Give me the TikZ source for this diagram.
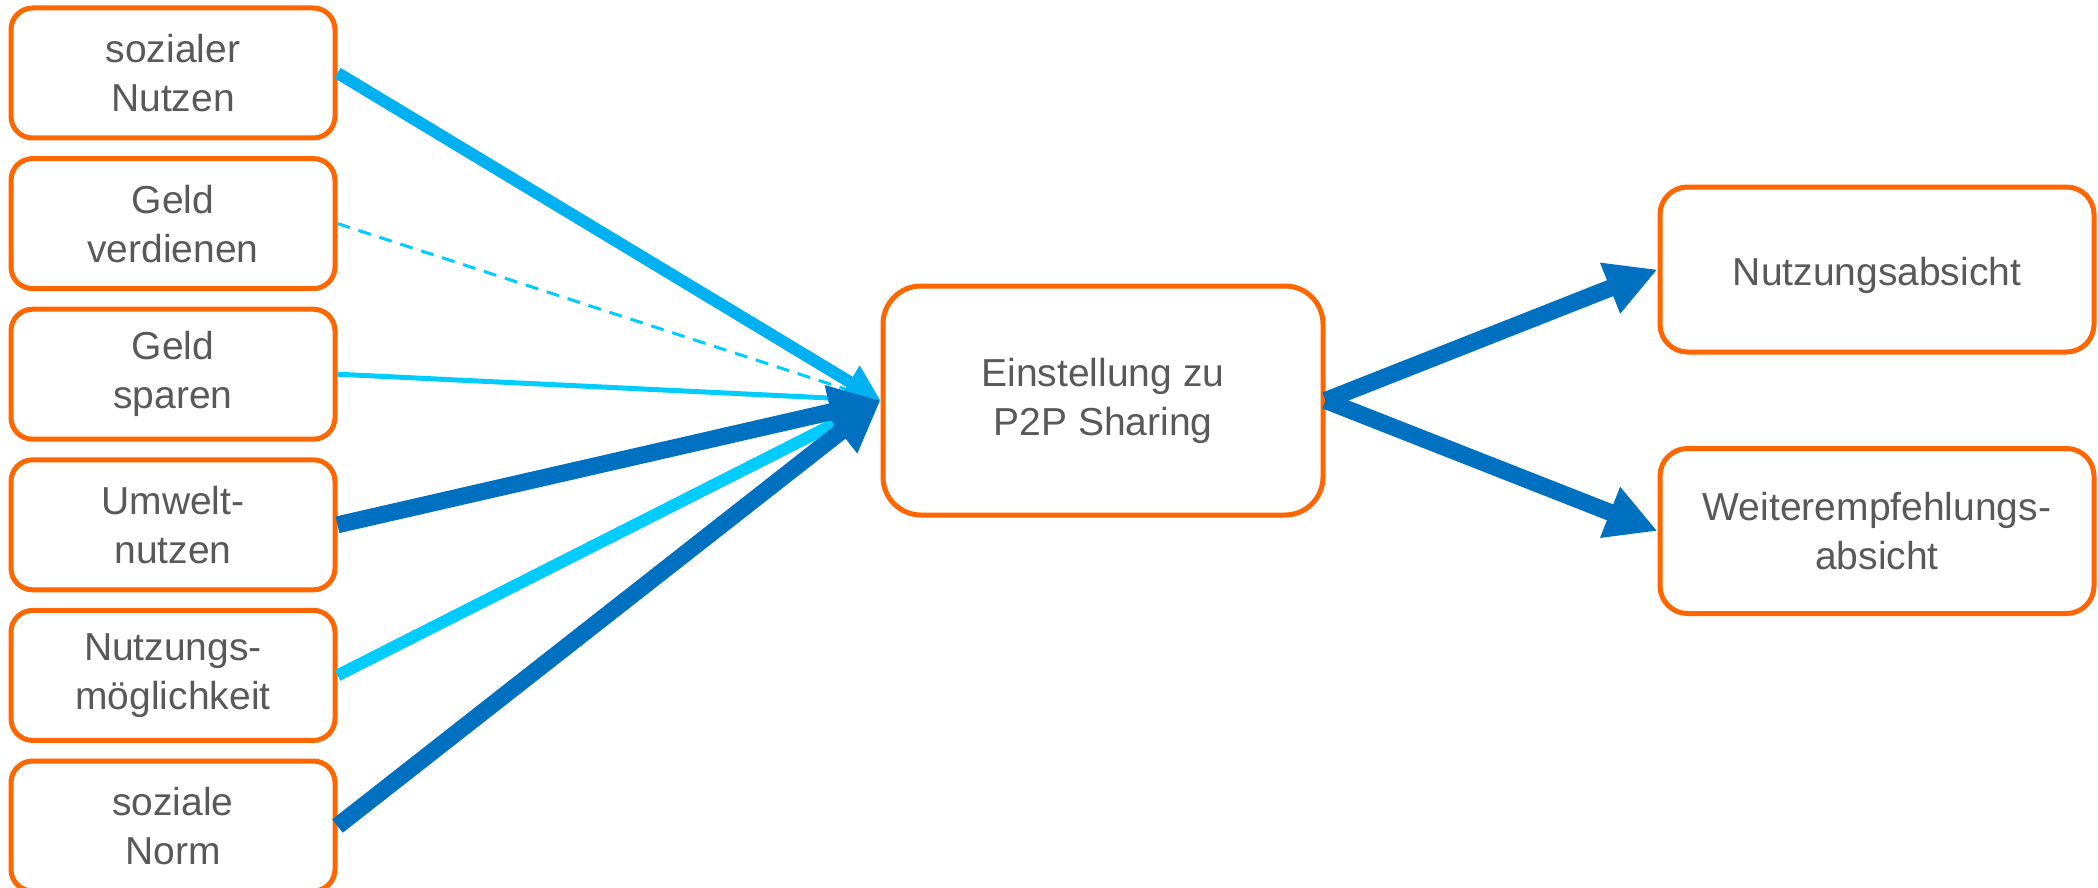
\documentclass[tikz,border=0pt]{standalone}
\usepackage{fontspec}
\setmainfont{Liberation Sans}
\usetikzlibrary{arrows.meta,positioning}
\definecolor{frame-color}{RGB}{255,102,0}
\definecolor{label-color}{RGB}{89,89,89}
\definecolor{strong-color}{RGB}{0,112,192}
\definecolor{mid-color}{RGB}{0,176,240}
\definecolor{weak-color}{RGB}{0,204,255}
\tikzset{
  box/.style={draw=frame-color, line width=2.5pt, fill=white,
    text=label-color, align=center, font=\fontsize{19.5}{24.5}\selectfont,
    execute at begin node=\rule{0pt}{20pt}},
  factor/.style={box, rounded corners=10.8pt, minimum width=162pt, minimum height=65pt},
  attitude/.style={box, rounded corners=19pt, minimum width=220pt, minimum height=114.5pt},
  intention/.style={box, rounded corners=13.75pt, minimum width=217pt, minimum height=82.5pt}
}
\tikzset{
  link/.style={-{Triangle[length=0pt 3, width=0pt 3]}},
  link-strong/.style={link, draw=strong-color, line width=8.5pt},
  link-mid/.style={link, draw=mid-color, line width=6pt},
  link-weak/.style={link, draw=weak-color, line width=#1},
  link-weak/.default=2.5pt
}

\begin{document}
\begin{tikzpicture}[node distance=7.8pt]
  \useasboundingbox (0,0) rectangle (1049pt,-444pt);
  \node[factor] (social) at (86.5pt,-36.5pt) {sozialer\\Nutzen};
  \node[factor, below=of social] (earn) {Geld\\verdienen};
  \node[factor, below=of earn] (save) {Geld\\sparen};
  \node[factor, below=of save] (eco) {Umwelt-\\nutzen};
  \node[factor, below=of eco] (avail) {Nutzungs-\\möglichkeit};
  \node[factor, below=of avail] (norm) {soziale\\Norm};
  \node[attitude] (att) at (551.5pt,-200.25pt) {Einstellung zu\\P2P Sharing};
  \node[intention] (use) at (938.5pt,-134.75pt) {Nutzungsabsicht};
  \node[intention] (rec) at (938.5pt,-265.5pt) {Weiterempfehlungs-\\absicht};

  \draw[link-weak=1.5pt, dash pattern=on 6.5pt off 4.5pt] (earn.east) -- (att.west);
  \draw[link-weak] (save.east) -- (att.west);
  \draw[link-mid] (social.east) -- (att.west);
  \draw[link-weak=6pt] (avail.east) -- (att.west);
  \draw[link-strong] (norm.east) -- (att.west);
  \draw[link-strong] (eco.east) -- (att.west);
  \draw[link-strong] (att.east) -- (use.west);
  \draw[link-strong] (att.east) -- (rec.west);
\end{tikzpicture}
\end{document}
